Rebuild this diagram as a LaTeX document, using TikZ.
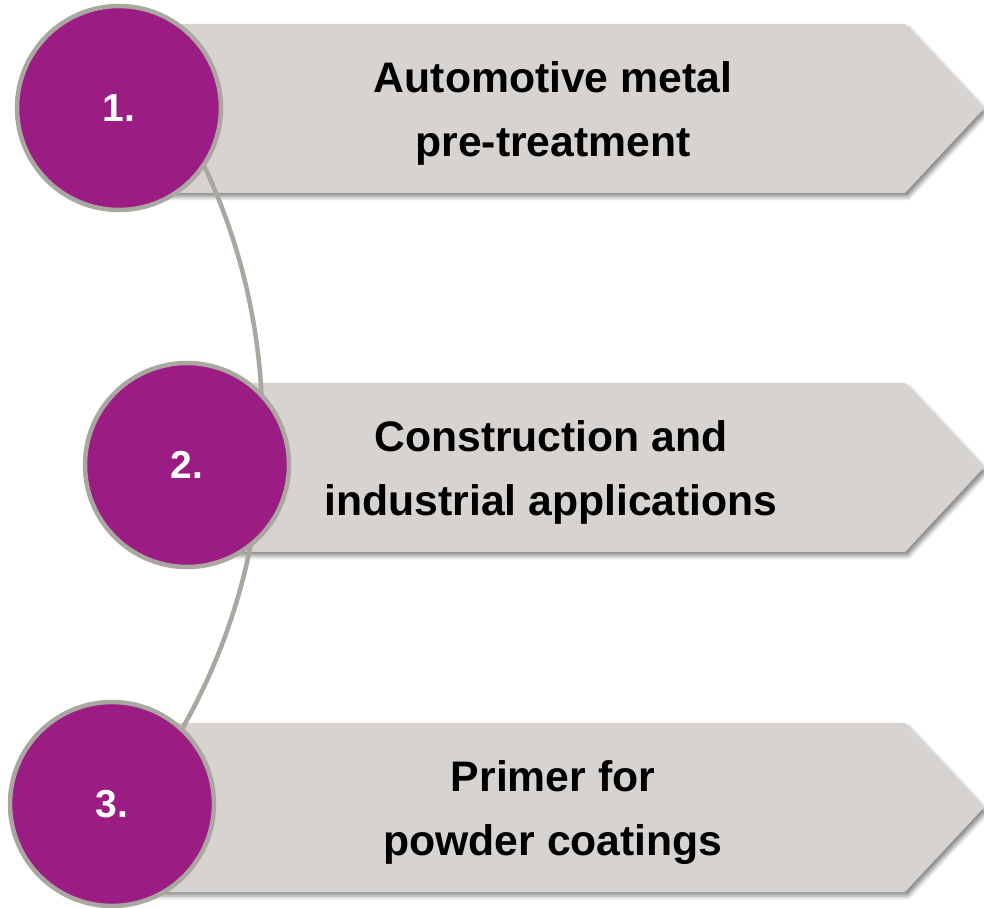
\documentclass[tikz,border=0pt]{standalone}
\usepackage{fontspec}
\setmainfont{Liberation Sans}
\usetikzlibrary{shadows.blur}
\definecolor{plum}{RGB}{155,28,130}
\definecolor{rimgray}{RGB}{170,166,160}
\definecolor{bandgray}{RGB}{214,211,208}

\begin{document}
\begin{tikzpicture}[x=1pt,y=1pt,
    banner/.style={fill=bandgray,blur shadow={shadow xshift=3pt,shadow yshift=-4pt,shadow blur radius=4pt,shadow opacity=45}},
    num/.style={circle,draw=rimgray,line width=4.5pt,fill=plum,minimum size=204pt,inner sep=0pt,
      text=white,font=\bfseries\fontsize{39}{39}\selectfont},
    lbl/.style={align=center,font=\bfseries\fontsize{42.7}{63.5}\selectfont}]
    \useasboundingbox (0,0) rectangle (984,907);
    \pgfmathsetmacro{\h}{84.5}
    % grey bands
    \foreach \x/\y in {120/798.5,190/439.5,112/99.5}
      \fill[banner] (\x,\y+\h) -- (905,\y+\h) -- (984,\y) -- (905,\y-\h) -- (\x,\y-\h) -- cycle;
    % arc joining the circles
    \coordinate (arcA) at (167.8,807.3);
    \draw[rimgray,line width=4.5pt] (arcA) arc[start angle=32.3,end angle=-37.7,radius=611];
    \node[num] (n1) at (119,799) {1.};
    \node[num] (n2) at (187,442) {2.};
    \node[num] (n3) at (112,103) {3.};
    \node[lbl] (t1) at (553,793.5) {Automotive metal\\pre-treatment};
    \node[lbl] (t2) at (551,434.5) {Construction and\\industrial applications};
    \node[lbl] (t3) at (553,94.5) {Primer for\\powder coatings};
\end{tikzpicture}
\end{document}
